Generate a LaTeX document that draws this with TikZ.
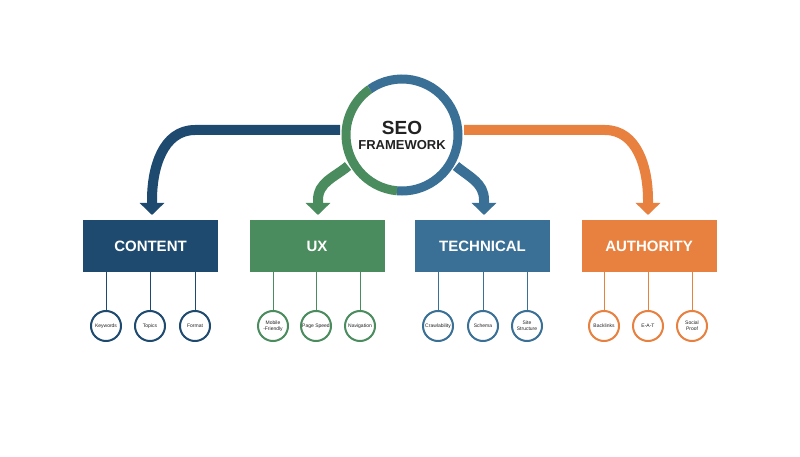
\documentclass[tikz,border=0pt]{standalone}
\usepackage{fontspec}
\setmainfont{Liberation Sans}
\usetikzlibrary{arrows.meta}
\definecolor{cblue}{HTML}{1F4A70}
\definecolor{cgreen}{HTML}{4A8C5E}
\definecolor{ctech}{HTML}{3A6F96}
\definecolor{corange}{HTML}{E8813F}
\definecolor{ink}{HTML}{222222}
\begin{document}
\begin{tikzpicture}[x=1pt,y=-1pt,
  box/.style={minimum width=135pt,minimum height=52pt,text=white,font=\bfseries\fontsize{15}{17}\selectfont,inner sep=0pt},
  leaf/.style={circle,draw=#1,line width=2pt,fill=white,minimum size=30pt,inner sep=0pt,align=center,text=ink,font=\fontsize{5}{6}\selectfont},
  stem/.style={draw=#1,line width=1pt},
  band/.style={draw=#1,line width=10pt,-{Triangle[length=12pt,width=24pt]}}]
\useasboundingbox (0,0) rectangle (800,457);
\fill[white] (0,0) rectangle (800,457);
% arrows
\coordinate (la) at (340,130); \coordinate (ra) at (464,130);
\coordinate (ga) at (348,166); \coordinate (ba) at (456,166);
\draw[band=cblue] (la) -- (195,130) to[out=180,in=90] (152,200) -- (152,215);
\draw[band=corange] (ra) -- (605,130) to[out=0,in=90] (648,200) -- (648,215);
\draw[band=cgreen] (ga) to[out=220,in=90] (318,200) -- (318,215);
\draw[band=ctech] (ba) to[out=-40,in=90] (484,200) -- (484,215);
% center
\node[circle,fill=white,minimum size=108pt,align=center,text=ink,font=\bfseries\fontsize{13}{15}\selectfont] (seo) at (402,135) {\fontsize{19}{21}\selectfont SEO\\[0pt]FRAMEWORK};
\draw[cgreen,line width=9pt] (402,135) ++(95:56) arc[start angle=95,end angle=235,radius=56];
\draw[ctech,line width=9pt] (402,135) ++(235:56) arc[start angle=235,end angle=455,radius=56];
% boxes
\node[box,fill=cblue] (content) at (150.5,246) {CONTENT};
\node[box,fill=cgreen] (ux) at (317,246) {UX};
\node[box,fill=ctech] (tech) at (482.5,246) {TECHNICAL};
\node[box,fill=corange] (auth) at (649,246) {AUTHORITY};
% leaves
\foreach \n/\x/\t/\c in {c1/106/Keywords/cblue,c2/150/Topics/cblue,c3/195/Format/cblue,
  u1/273/{Mobile\\-Friendly}/cgreen,u2/316/Page Speed/cgreen,u3/360/Navigation/cgreen,
  t1/438/Crawlability/ctech,t2/483/Schema/ctech,t3/527/{Site\\Structure}/ctech,
  a1/604/Backlinks/corange,a2/648/E-A-T/corange,a3/692/{Social\\Proof}/corange}{
  \coordinate (\n top) at (\x,272);
  \node[leaf=\c] (\n) at (\x,326) {\t};
  \draw[stem=\c] (\n top) -- (\n);
}
\end{tikzpicture}
\end{document}
